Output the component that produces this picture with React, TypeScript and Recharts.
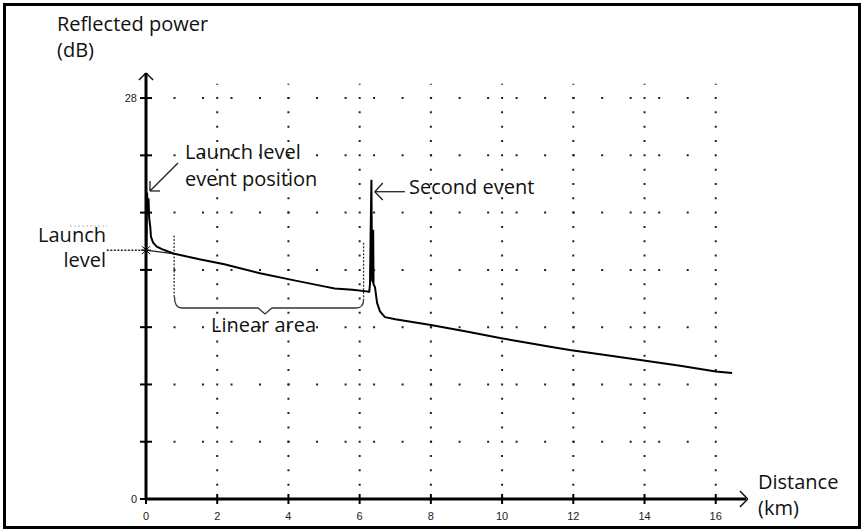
import React from "react";
import { LineChart, Line, XAxis, YAxis, ReferenceLine, ReferenceDot } from "recharts";

// OTDR trace: distance (km) vs reflected power (dB)
const traceKm = [
  0.01, 0.03, 0.05, 0.07, 0.09, 0.12, 0.14, 0.2, 0.3, 0.45, 0.6, 0.8,
  1.5, 2.2, 3.2, 4.2, 5.0, 5.3, 5.8, 6.2, 6.27,
  6.29, 6.31, 6.33, 6.34, 6.35, 6.36, 6.37, 6.38, 6.39,
  6.43, 6.49, 6.57, 6.71, 7.0, 8.0, 9.0, 9.94, 10.5, 11.35, 11.9, 12.9, 13.88, 15.0, 16.0, 16.46,
];
const traceDb = [
  17.6, 21.4, 20.0, 21.0, 19.6, 19.0, 18.3, 17.9, 17.62, 17.45, 17.3, 17.12,
  16.75, 16.4, 15.76, 15.25, 14.85, 14.7, 14.62, 14.5, 14.45,
  15.0, 18.8, 22.3, 18.8, 15.2, 18.8, 15.1, 18.8, 15.0,
  14.8, 13.7, 13.1, 12.7, 12.55, 12.15, 11.7, 11.24, 11.0, 10.64, 10.4, 10.05, 9.7, 9.3, 8.9, 8.8,
];
// straight fit from the launch level into the linear area
const fitKm = [0, 0.8];
const fitDb = [17.38, 17.12];

const xTicks = [0, 2, 4, 6, 8, 10, 12, 14, 16];
const yTicks = [0, 4, 8, 12, 16, 20, 24, 28];
const yLabelled = [0, 28];
const gridKm = [2, 4, 6, 8, 10, 12, 14, 16];
const gridDb = [4, 8, 12, 16, 20, 24, 28];

const launchLevelDb = 17.38;
const linearStartKm = 0.79;
const linearEndKm = 6.11;

const X_MAX = 16.85;
const Y_MAX = 29.75;

const traceData = traceKm.map((km, i) => ({ km, db: traceDb[i] }));
const fitData = fitKm.map((km, i) => ({ km, db: fitDb[i] }));

const TEXT_FONT = "'Open Sans', 'Noto Sans', sans-serif";
const TICK_FONT = "'Liberation Sans', Arial, sans-serif";

function XTick({ x, y, payload }: any) {
  return (
    <g>
      <line x1={x} x2={x} y1={y - 5} y2={y + 5} stroke="#000" strokeWidth={2} />
      <text x={x} y={y + 21} textAnchor="middle" fontSize={11} fontFamily={TICK_FONT} fill="#222">
        {payload.value}
      </text>
    </g>
  );
}

function YTick({ x, y, payload }: any) {
  return (
    <g>
      <line x1={x - 6} x2={x + 6} y1={y} y2={y} stroke="#000" strokeWidth={2} />
      {yLabelled.includes(payload.value) && (
        <text x={x - 9} y={y + 4} textAnchor="end" fontSize={11} fontFamily={TICK_FONT} fill="#222">
          {payload.value}
        </text>
      )}
    </g>
  );
}

function Asterisk({ cx, cy }: any) {
  return (
    <g stroke="#000" strokeWidth={1}>
      <line x1={cx - 4} y1={cy - 4} x2={cx + 4} y2={cy + 4} />
      <line x1={cx - 4} y1={cy + 4} x2={cx + 4} y2={cy - 4} />
      <line x1={cx - 5} y1={cy} x2={cx + 5} y2={cy} />
    </g>
  );
}

const arrow = { stroke: "#222", strokeWidth: 1.3, ifOverflow: "visible" as const };

export default function App() {
  return (
    <div style={{ position: "absolute", left: 0, top: 0, width: 863, height: 529, background: "#fff" }}>
      <LineChart
        width={863}
        height={529}
        margin={{ top: 73, right: 117, bottom: 10, left: 106 }}
      >
        <XAxis
          type="number"
          dataKey="km"
          domain={[0, X_MAX]}
          ticks={xTicks}
          interval={0}
          allowDataOverflow
          tick={<XTick />}
          tickLine={false}
          tickSize={0}
          tickMargin={0}
          axisLine={{ stroke: "#000", strokeWidth: 3 }}
          height={20}
        />
        <YAxis
          type="number"
          domain={[0, Y_MAX]}
          ticks={yTicks}
          interval={0}
          allowDataOverflow
          tick={<YTick />}
          tickLine={false}
          tickSize={0}
          tickMargin={0}
          axisLine={{ stroke: "#000", strokeWidth: 3 }}
          width={40}
        />

        {/* dotted grid */}
        {gridKm.map((k) => (
          <ReferenceLine
            key={`gx${k}`}
            segment={[{ x: k, y: 0 }, { x: k, y: 29 }]}
            stroke="#222"
            strokeWidth={2}
            strokeDasharray="2 12.32"
            strokeDashoffset={1}
          />
        ))}
        {gridDb.map((d) => (
          <ReferenceLine
            key={`gy${d}`}
            segment={[{ x: 0, y: d }, { x: 16, y: d }]}
            stroke="#222"
            strokeWidth={2}
            strokeDasharray="2 26.51"
            strokeDashoffset={1}
          />
        ))}

        {/* axis arrowheads */}
        <ReferenceLine segment={[{ x: 16.68, y: 0.56 }, { x: 16.9, y: 0 }]} {...arrow} stroke="#000" />
        <ReferenceLine segment={[{ x: 16.68, y: -0.56 }, { x: 16.9, y: 0 }]} {...arrow} stroke="#000" />
        <ReferenceLine segment={[{ x: -0.2, y: 29.26 }, { x: 0, y: Y_MAX }]} {...arrow} stroke="#000" />
        <ReferenceLine segment={[{ x: 0.2, y: 29.26 }, { x: 0, y: Y_MAX }]} {...arrow} stroke="#000" />

        {/* launch level marker */}
        <ReferenceLine
          segment={[{ x: -1.1, y: launchLevelDb }, { x: 0, y: launchLevelDb }]}
          stroke="#222"
          strokeWidth={1.5}
          strokeDasharray="2 1.5"
          ifOverflow="visible"
        />

        {/* linear area bounds */}
        <ReferenceLine
          segment={[{ x: linearStartKm, y: 18.4 }, { x: linearStartKm, y: 14.1 }]}
          stroke="#333"
          strokeWidth={1.3}
          strokeDasharray="2 1.5"
        />
        <ReferenceLine
          segment={[{ x: linearEndKm, y: 17.9 }, { x: linearEndKm, y: 13.9 }]}
          stroke="#333"
          strokeWidth={1.3}
          strokeDasharray="2 1.5"
        />

        {/* pointer arrows */}
        <ReferenceLine segment={[{ x: 0.898, y: 23.46 }, { x: 0.112, y: 21.51 }]} {...arrow} />
        <ReferenceLine segment={[{ x: 0.112, y: 21.51 }, { x: 0.393, y: 21.51 }]} {...arrow} />
        <ReferenceLine segment={[{ x: 0.112, y: 21.51 }, { x: 0.112, y: 22.21 }]} {...arrow} />
        <ReferenceLine segment={[{ x: 7.27, y: 21.46 }, { x: 6.425, y: 21.46 }]} {...arrow} />
        <ReferenceLine segment={[{ x: 6.425, y: 21.46 }, { x: 6.65, y: 22.07 }]} {...arrow} />
        <ReferenceLine segment={[{ x: 6.425, y: 21.46 }, { x: 6.65, y: 20.88 }]} {...arrow} />

        <Line
          data={fitData}
          dataKey="db"
          type="linear"
          stroke="#222"
          strokeWidth={1.2}
          dot={false}
          isAnimationActive={false}
        />
        <Line
          data={traceData}
          dataKey="db"
          type="linear"
          stroke="#000"
          strokeWidth={2}
          strokeLinejoin="bevel"
          dot={false}
          isAnimationActive={false}
        />
        <ReferenceDot x={0} y={launchLevelDb} r={5} ifOverflow="visible" shape={<Asterisk />} />
      </LineChart>

      {/* annotations */}
      <svg
        width={863}
        height={529}
        style={{ position: "absolute", left: 0, top: 0, pointerEvents: "none" }}
        fontFamily={TEXT_FONT}
        fontSize={20}
        fill="#111"
      >
        <rect x={4.5} y={4.5} width={855} height={523} fill="none" stroke="#000" strokeWidth={3} />
        <text x={57} y={31}>Reflected power</text>
        <text x={57} y={57}>(dB)</text>
        <text x={185} y={159}>Launch level</text>
        <text x={185} y={186}>event position</text>
        <text x={409} y={194}>Second event</text>
        <text x={106} y={242} textAnchor="end">Launch</text>
        <text x={106} y={267} textAnchor="end">level</text>
        <line x1={70} y1={226} x2={107} y2={226} stroke="#bbb" strokeWidth={1} strokeDasharray="2 2" />
        <text x={211} y={332}>Linear area</text>
        <text x={758} y={489}>Distance</text>
        <text x={758} y={515}>(km)</text>
        <path
          d="M174.5,297 Q174.5,308 182,308 L258,308 L265,314 L272,308 L356,308 Q363.5,308 363.5,300"
          fill="none"
          stroke="#333"
          strokeWidth={1.3}
        />
      </svg>
    </div>
  );
}
